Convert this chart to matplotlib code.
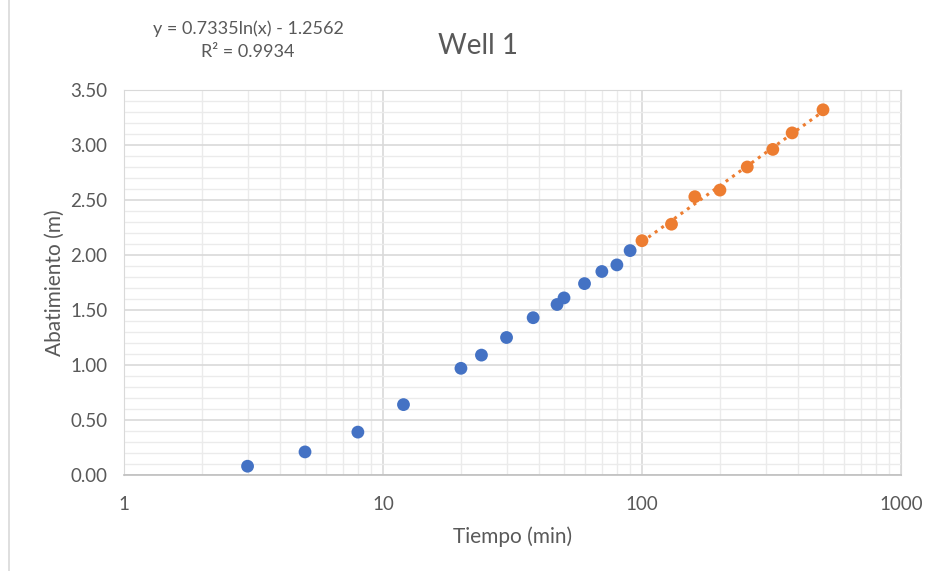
import numpy as np
import matplotlib
matplotlib.use("Agg")
import matplotlib.pyplot as plt
from matplotlib.ticker import FixedLocator, FixedFormatter, MultipleLocator, NullFormatter

# Datos
t_blue = [3, 5, 8, 12, 20, 24, 30, 38, 47, 50, 60, 70, 80, 90]
s_blue = [0.08, 0.21, 0.39, 0.64, 0.97, 1.09, 1.25, 1.43, 1.55, 1.61, 1.74, 1.85, 1.91, 2.04]
t_orange = [100, 130, 160, 200, 255, 320, 380, 500]
s_orange = [2.13, 2.28, 2.53, 2.59, 2.80, 2.96, 3.11, 3.32]

eq_lines = ["y = 0.7335ln(x) - 1.2562", "R² = 0.9934"]
title = "Well 1"
xlabel = "Tiempo (min)"
ylabel = "Abatimiento (m)"

BLUE = "#4472C4"
ORANGE = "#ED7D31"
TXT = "#595959"

plt.rcParams["font.family"] = ["Lato", "DejaVu Sans"]

fig = plt.figure(figsize=(9.35, 5.71), dpi=100)
ax = fig.add_axes([0.1326, 0.1681, 0.831, 0.6743])

# línea de tendencia logarítmica ajustada a los puntos naranjas
a, b = np.polyfit(np.log(t_orange), s_orange, 1)
xt = np.linspace(min(t_orange), max(t_orange), 100)
ax.plot(xt, a * np.log(xt) + b, color=ORANGE, linestyle=(0, (1, 1.6)),
        linewidth=2.2, zorder=3)

ax.scatter(t_blue, s_blue, s=85, color=BLUE, edgecolor="none", zorder=4)
ax.scatter(t_orange, s_orange, s=85, color=ORANGE, edgecolor="none", zorder=4)

ax.set_xscale("log")
ax.set_xlim(1, 1000)
ax.set_ylim(0, 3.5)

ax.xaxis.set_major_locator(FixedLocator([1, 10, 100, 1000]))
ax.xaxis.set_major_formatter(FixedFormatter(["1", "10", "100", "1000"]))
minors = [m * d for d in (1, 10, 100) for m in range(2, 10)]
ax.xaxis.set_minor_locator(FixedLocator(minors))
ax.xaxis.set_minor_formatter(NullFormatter())
ax.yaxis.set_major_locator(MultipleLocator(0.5))
ax.yaxis.set_minor_locator(MultipleLocator(0.1))
ax.yaxis.set_major_formatter(matplotlib.ticker.FormatStrFormatter("%.2f"))

ax.grid(which="major", color="#d9d9d9", linewidth=1.2, zorder=0)
ax.grid(which="minor", color="#ebebeb", linewidth=1.0, zorder=0)
ax.set_axisbelow(True)

for sp in ax.spines.values():
    sp.set_color("#d9d9d9")
ax.spines["bottom"].set_color("#bfbfbf")
ax.spines["bottom"].set_linewidth(1.2)

ax.tick_params(which="both", length=0, labelsize=13.5, colors=TXT)
ax.tick_params(axis="y", pad=12)
ax.tick_params(axis="x", pad=15)

ax.set_xlabel(xlabel, fontsize=15, color=TXT, labelpad=10)
ax.set_ylabel(ylabel, fontsize=15, color=TXT, labelpad=4)

fig.text(478 / 935, 1 - 46 / 571, title, fontsize=20, color=TXT,
         ha="center", va="center")
# ecuación de la línea de tendencia (dos líneas centradas)
fig.text(248 / 935, 1 - 29 / 571, eq_lines[0], fontsize=13, color=TXT,
         ha="center", va="center")
fig.text(248 / 935, 1 - 52 / 571, eq_lines[1], fontsize=13, color=TXT,
         ha="center", va="center")

# borde izquierdo del área del gráfico
fig.add_artist(plt.Line2D([9 / 935, 9 / 935], [0, 1], color="#d9d9d9",
                          linewidth=1.2, transform=fig.transFigure))

fig.savefig("out.png", dpi=100, facecolor="white")
